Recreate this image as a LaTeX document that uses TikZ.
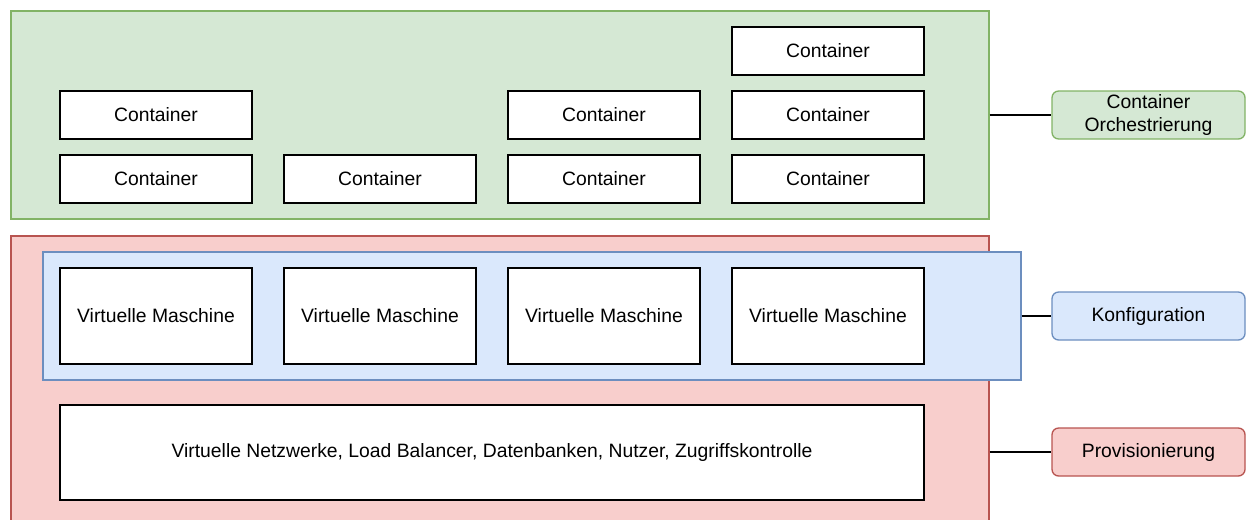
\documentclass[tikz,border=0pt]{standalone}
\usepackage{fontspec}
\setmainfont{Liberation Sans}
\usetikzlibrary{positioning}
\definecolor{orchfill}{HTML}{D5E8D4}
\definecolor{orchline}{HTML}{82B366}
\definecolor{provfill}{HTML}{F8CECC}
\definecolor{provline}{HTML}{B85450}
\definecolor{konffill}{HTML}{DAE8FC}
\definecolor{konfline}{HTML}{6C8EBF}

\begin{document}
\begin{tikzpicture}[x=0.75pt,y=-0.75pt,on grid,node distance=48pt and 168pt,
  font=\fontsize{14.5}{17.5}\selectfont,
  layer/.style={draw,line width=1pt,inner sep=0pt},
  box/.style={draw=black,fill=white,line width=1pt,inner sep=0pt,minimum width=144pt,minimum height=36pt},
  vmbox/.style={box,minimum height=72pt},
  tag/.style={draw,line width=1pt,rounded corners=5pt,align=center,inner sep=0pt,minimum width=144.75pt,minimum height=36pt}]
\clip (0,0) rectangle (1253,519);
\useasboundingbox (0,0) rectangle (1253,519);
% container layer
\node[layer,fill=orchfill,draw=orchline,minimum width=733.5pt,minimum height=156pt] (orch) at (500,115) {};
\node[box] (c31) at (156,179) {Container};
\node[box,right=of c31] (c32) {Container};
\node[box,right=of c32] (c33) {Container};
\node[box,right=of c33] (c34) {Container};
\node[box,above=of c31] (c21) {Container};
\node[box,above=of c33] (c23) {Container};
\node[box,above=of c34] (c24) {Container};
\node[box,above=of c24] (c14) {Container};
% provisioning + configuration
\node[layer,fill=provfill,draw=provline,minimum width=733.5pt,minimum height=220.5pt] (prov) at (500,383) {};
\node[layer,fill=konffill,draw=konfline,minimum width=733.5pt,minimum height=96pt] (konf) at (532,316) {};
\node[vmbox] (vm1) at (156,316) {Virtuelle Maschine};
\node[vmbox,right=of vm1] (vm2) {Virtuelle Maschine};
\node[vmbox,right=of vm2] (vm3) {Virtuelle Maschine};
\node[vmbox,right=of vm3] (vm4) {Virtuelle Maschine};
\node[box,minimum width=648pt,minimum height=71.25pt] (net) at (492,452.5) {Virtuelle Netzwerke, Load Balancer, Datenbanken, Nutzer, Zugriffskontrolle};
% labels
\node[tag,fill=orchfill,draw=orchline] (orchtag) at (1148.5,115) {Container\\Orchestrierung};
\node[tag,fill=konffill,draw=konfline] (konftag) at (1148.5,316) {Konfiguration};
\node[tag,fill=provfill,draw=provline] (provtag) at (1148.5,452) {Provisionierung};
\draw[line width=1pt] (orch.east|-orchtag) -- (orchtag.west);
\draw[line width=1pt] (konf.east|-konftag) -- (konftag.west);
\draw[line width=1pt] (prov.east|-provtag) -- (provtag.west);
\end{tikzpicture}
\end{document}
